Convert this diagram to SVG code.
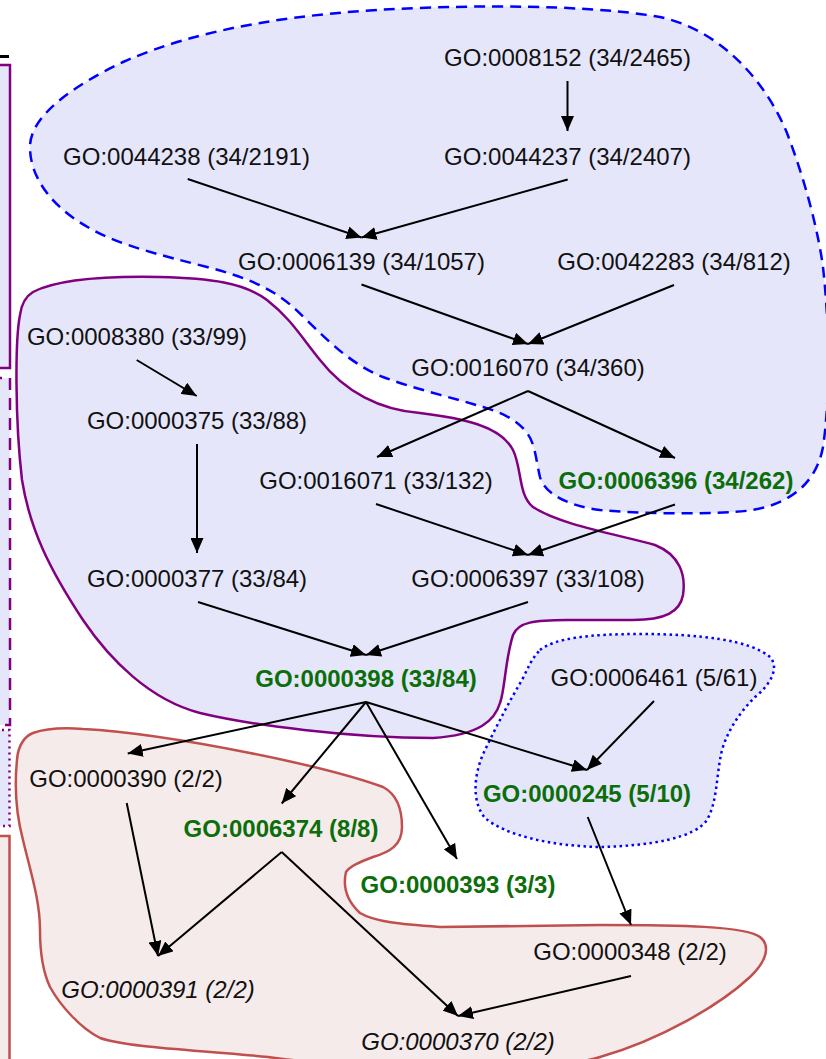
<svg xmlns="http://www.w3.org/2000/svg" width="826" height="1059" viewBox="0 0 826 1059">
<defs>
<marker id="ah" viewBox="0 0 15 13" refX="15" refY="6.5" markerWidth="15" markerHeight="13" orient="auto" markerUnits="userSpaceOnUse">
<path d="M0,0 L15,6.5 L0,13 Z" fill="#000"/>
</marker>
<style>
.t{font-family:"Liberation Sans",Arial,Helvetica,sans-serif;font-size:24px;fill:#111;text-anchor:middle}
.g{font-weight:bold;fill:#0B6E0B}
.i{font-style:italic}
.e{stroke:#000;stroke-width:2;fill:none;marker-end:url(#ah)}
.lav{fill:#E6E6FA}
.pink{fill:#F6EBEB}
</style>
</defs>
<rect width="826" height="1059" fill="#fff"/>
<g id="left-edge">
<line x1="0" y1="56.5" x2="9" y2="56.5" stroke="#000" stroke-width="3"/>
<rect x="-10" y="65" width="20" height="303" class="lav" stroke="#800080" stroke-width="2.5"/>
<rect x="-10" y="378" width="20" height="347" class="lav" stroke="#800080" stroke-width="2.5" stroke-dasharray="12 8"/>
<rect x="-10" y="730" width="19.5" height="96" class="lav" stroke="#800080" stroke-width="2.5" stroke-dasharray="2 4"/>
<rect x="-10" y="836" width="19.5" height="240" class="pink" stroke="#C0504D" stroke-width="2.5"/>
</g>
<g id="clusters">
<path id="cluster-blue-dashed" class="lav" stroke="#0000FF" stroke-width="2.5" stroke-dasharray="11 7" d="M 420 8 C 520 4, 610 8, 660 17 C 720 30, 765 80, 787 133 C 805 180, 818 230, 823 267 C 830 330, 830 400, 823 447 C 815 490, 780 510, 733 512 C 700 514, 640 514, 600 510 C 570 506, 545 495, 540 477 C 536 460, 535 443, 527 433 C 518 420, 500 412, 483 407 C 450 397, 415 389, 383 377 C 345 362, 318 330, 293 307 C 270 287, 245 277, 207 267 C 160 255, 120 245, 93 230 C 55 210, 30 180, 30 147 C 30 115, 75 85, 123 62 C 200 28, 300 12, 420 8 Z"/>
<path id="cluster-purple" class="lav" stroke="#800080" stroke-width="2.5" d="M 33 292 C 60 278, 110 276, 160 277 C 210 278, 245 283, 267 300 C 290 318, 300 335, 320 360 C 345 392, 380 410, 420 413 C 460 418, 500 425, 513 450 C 522 468, 518 495, 533 507 C 560 525, 620 535, 655 545 C 680 555, 686 575, 683 595 C 680 612, 665 620, 633 620 L 567 620 C 535 620, 518 622, 513 635 C 505 660, 505 690, 500 703 C 495 720, 480 735, 433 738 C 350 738, 250 725, 200 713 C 150 700, 110 660, 83 620 C 50 570, 30 530, 22 480 C 15 420, 15 340, 20 315 C 22 300, 28 295, 33 292 Z"/>
<path id="cluster-blue-dotted" class="lav" stroke="#0000FF" stroke-width="2.5" stroke-dasharray="2.5 3.5" d="M 540 650 C 555 638, 590 634, 640 634 C 700 634, 750 640, 770 657 C 780 668, 770 685, 755 697 C 740 712, 728 730, 722 750 C 716 775, 718 800, 707 820 C 695 838, 650 846, 600 847 C 550 846, 505 835, 485 818 C 470 800, 475 770, 485 750 C 497 725, 510 700, 522 680 C 528 668, 532 658, 540 650 Z"/>
<path id="cluster-red" class="pink" stroke="#C0504D" stroke-width="2.5" d="M 33 733 C 50 727, 70 728, 83 729 C 140 732, 200 743, 250 753 C 300 763, 350 775, 383 787 C 398 795, 402 810, 402 827 C 402 845, 390 852, 373 857 C 360 862, 350 866, 346 872 C 343 885, 346 900, 360 913 C 375 922, 400 924, 440 927 L 600 925 C 680 925, 745 926, 760 937 C 770 945, 768 960, 750 977 C 720 1005, 660 1040, 600 1057 C 520 1080, 350 1068, 268 1057 C 200 1050, 130 1048, 100 1038 C 80 1028, 60 1005, 50 987 C 42 970, 40 950, 40 930 C 40 900, 30 870, 23 840 C 15 810, 15 780, 17 760 C 18 745, 25 736, 33 733 Z"/>
</g>
<g id="edges">
<line class="e" x1="567.5" y1="81" x2="567.5" y2="131"/>
<line class="e" x1="187.7" y1="179" x2="361.5" y2="237.5"/>
<line class="e" x1="567.7" y1="179.5" x2="361.5" y2="237.5"/>
<line class="e" x1="361.5" y1="284.5" x2="528" y2="344"/>
<line class="e" x1="674" y1="285" x2="528" y2="344"/>
<line class="e" x1="528" y1="391" x2="377" y2="457"/>
<line class="e" x1="528" y1="391" x2="675" y2="458"/>
<line class="e" x1="136.7" y1="360" x2="196.7" y2="396"/>
<line class="e" x1="197" y1="444" x2="197" y2="553"/>
<line class="e" x1="376" y1="504" x2="528" y2="555"/>
<line class="e" x1="675" y1="504.5" x2="528" y2="555"/>
<line class="e" x1="198" y1="602" x2="366" y2="655"/>
<line class="e" x1="528" y1="602" x2="366" y2="655"/>
<line class="e" x1="366" y1="702" x2="127.7" y2="753.5"/>
<line class="e" x1="366" y1="702" x2="281.7" y2="803.5"/>
<line class="e" x1="366" y1="702" x2="457" y2="859"/>
<line class="e" x1="366" y1="702" x2="587" y2="770"/>
<line class="e" x1="654" y1="701" x2="587" y2="770"/>
<line class="e" x1="126.7" y1="803" x2="158" y2="956"/>
<line class="e" x1="281.7" y1="852" x2="158" y2="956"/>
<line class="e" x1="281.7" y1="852" x2="458" y2="1016"/>
<line class="e" x1="631" y1="976" x2="458" y2="1016"/>
<line class="e" x1="587.7" y1="817" x2="631" y2="925"/>
</g>
<g id="n0008152"><text class="t" x="567.5" y="66">GO:0008152 (34/2465)</text></g>
<g id="n0044238"><text class="t" x="186.5" y="165">GO:0044238 (34/2191)</text></g>
<g id="n0044237"><text class="t" x="567.5" y="165">GO:0044237 (34/2407)</text></g>
<g id="n0006139"><text class="t" x="361.5" y="270">GO:0006139 (34/1057)</text></g>
<g id="n0042283"><text class="t" x="674" y="270">GO:0042283 (34/812)</text></g>
<g id="n0016070"><text class="t" x="528" y="376">GO:0016070 (34/360)</text></g>
<g id="n0008380"><text class="t" x="137" y="345">GO:0008380 (33/99)</text></g>
<g id="n0000375"><text class="t" x="197" y="429">GO:0000375 (33/88)</text></g>
<g id="n0016071"><text class="t" x="376" y="489">GO:0016071 (33/132)</text></g>
<g id="n0006396"><text class="t g" x="676" y="489">GO:0006396 (34/262)</text></g>
<g id="n0000377"><text class="t" x="197" y="587">GO:0000377 (33/84)</text></g>
<g id="n0006397"><text class="t" x="528" y="587">GO:0006397 (33/108)</text></g>
<g id="n0000398"><text class="t g" x="366" y="687">GO:0000398 (33/84)</text></g>
<g id="n0006461"><text class="t" x="654" y="686">GO:0006461 (5/61)</text></g>
<g id="n0000390"><text class="t" x="126" y="787">GO:0000390 (2/2)</text></g>
<g id="n0000245"><text class="t g" x="587" y="802">GO:0000245 (5/10)</text></g>
<g id="n0006374"><text class="t g" x="281" y="837">GO:0006374 (8/8)</text></g>
<g id="n0000393"><text class="t g" x="458" y="893">GO:0000393 (3/3)</text></g>
<g id="n0000348"><text class="t" x="630" y="960">GO:0000348 (2/2)</text></g>
<g id="n0000391"><text class="t i" x="158" y="998">GO:0000391 (2/2)</text></g>
<g id="n0000370"><text class="t i" x="458" y="1050">GO:0000370 (2/2)</text></g>
</svg>
